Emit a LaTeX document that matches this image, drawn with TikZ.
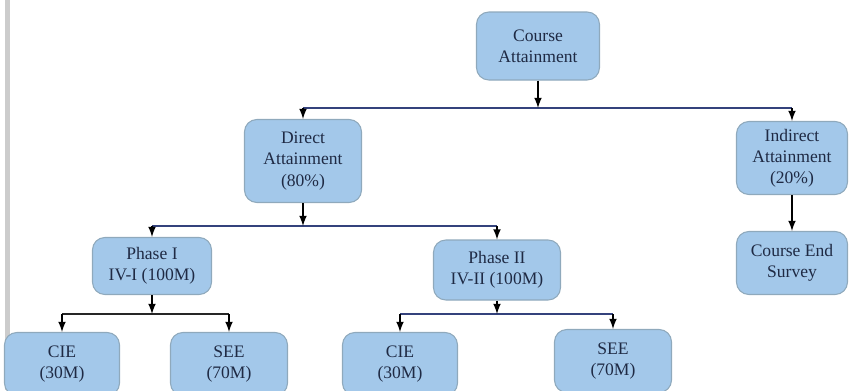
\documentclass[tikz,border=0pt]{standalone}
\usepackage{fontspec}
\setmainfont{Liberation Serif}
\definecolor{boxblue}{HTML}{A3C8EA}
\definecolor{boxedge}{HTML}{8FA9BC}
\definecolor{busnavy}{HTML}{34427C}
\definecolor{textnavy}{HTML}{1F2A44}
\tikzset{
  box/.style={rectangle, rounded corners=7pt, fill=boxblue, draw=boxedge, line width=.6pt,
    align=center, text=textnavy, font=\fontsize{10}{12}\selectfont, inner sep=2pt},
  bus/.style={draw=busnavy, line width=1.4pt},
  feed/.style={->, line width=1pt, black}
}
\begin{document}
\begin{tikzpicture}[>=latex, x=0.02cm, y=-0.02cm]
\useasboundingbox (0,0) rectangle (850,390);
\clip (0,0) rectangle (850,390);
\fill[gray!40] (5,0) rectangle (10,390);
% top level
\node[box, minimum width=2.46cm, minimum height=1.36cm] (course) at (538,46) {Course\\Attainment};
\node[box, minimum width=2.34cm, minimum height=1.66cm] (direct) at (303,161) {Direct\\Attainment\\(80\%)};
\node[box, minimum width=2.22cm, minimum height=1.46cm] (indirect) at (792,158) {Indirect\\Attainment\\(20\%)};
\node[box, minimum width=2.22cm, minimum height=1.26cm] (survey) at (792,263) {Course End\\Survey};
% phases
\node[box, minimum width=2.38cm, minimum height=1.14cm] (phaseA) at (152,266) {Phase I\\IV-I (100M)};
\node[box, minimum width=2.54cm, minimum height=1.2cm] (phaseB) at (497,270) {Phase II\\IV-II (100M)};
% marks
\node[box, minimum width=2.3cm, minimum height=1.26cm] (cieA) at (62,364) {CIE\\(30M)};
\node[box, minimum width=2.34cm, minimum height=1.26cm] (seeA) at (229,364) {SEE\\(70M)};
\node[box, minimum width=2.3cm, minimum height=1.26cm] (cieB) at (400,364) {CIE\\(30M)};
\node[box, minimum width=2.34cm, minimum height=1.26cm] (seeB) at (613,361) {SEE\\(70M)};
% bus ends
\coordinate (busT) at (538,108);
\coordinate (busTa) at (303,108);
\coordinate (busTb) at (792,108);
\coordinate (busD) at (303,226);
\coordinate (busDa) at (152,226);
\coordinate (busDb) at (497,226);
\coordinate (busA) at (152,314);
\coordinate (busAa) at (62,314);
\coordinate (busAb) at (229,314);
\coordinate (busB) at (497,314);
\coordinate (busBa) at (400,314);
\coordinate (busBb) at (613,314);
% connectors
\draw[bus] (busTa)--(busTb);
\draw[bus] (busDa)--(busDb);
\draw[bus, draw=black!85] (busAa)--(busAb);
\draw[bus] (busBa)--(busBb);
\draw[feed] (course)--(busT);
\draw[feed] (busTa)--(direct);
\draw[feed] (busTb)--(indirect);
\draw[feed] (indirect)--(survey);
\draw[feed] (direct)--(busD);
\draw[feed] (busDa)--(phaseA);
\draw[feed] (busDb)--(phaseB);
\draw[feed] (phaseA)--(busA);
\draw[feed] (busAa)--(cieA);
\draw[feed] (busAb)--(seeA);
\draw[feed] (phaseB)--(busB);
\draw[feed] (busBa)--(cieB);
\draw[feed] (busBb)--(seeB);
\end{tikzpicture}
\end{document}
